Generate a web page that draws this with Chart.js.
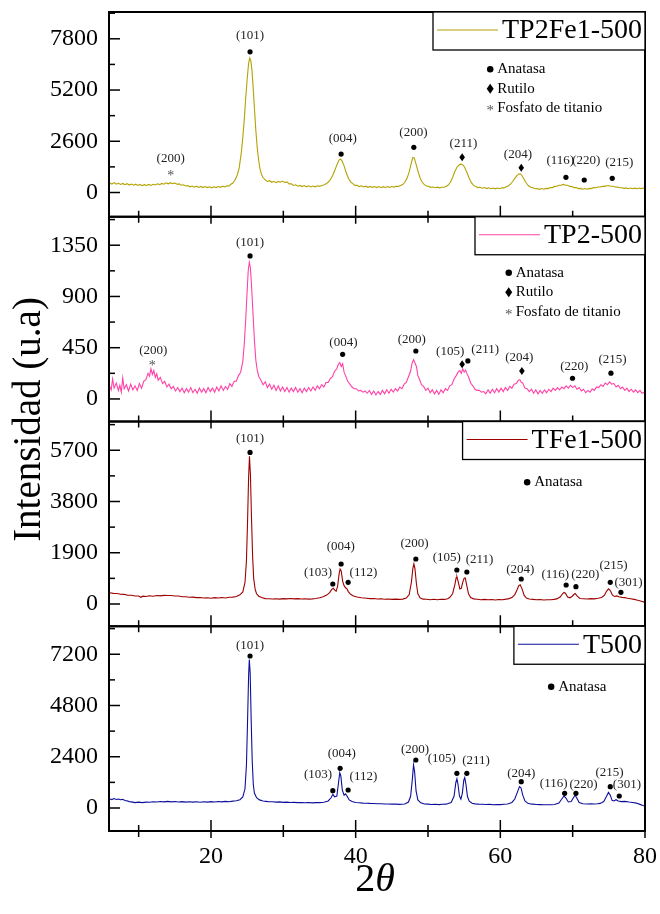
<!DOCTYPE html>
<html>
<head>
<meta charset="utf-8">
<script src="https://cdn.jsdelivr.net/npm/chart.js@4.4.0/dist/chart.umd.min.js"></script>
<style>
  html, body { margin: 0; background: #fff; }
</style>
</head>
<body>
<canvas id="xrdChart" width="660" height="914"></canvas>
<script>
// ---- data: [2theta, intensity] ----
const tp2fe1 = [
  [6.0,480],[6.3,430],[6.6,500],[6.9,420],[7.2,470],[7.5,410],[7.8,460],[8.1,400],[8.4,450],[8.7,380],
  [9.0,430],[9.3,370],[9.6,420],[9.9,360],[10.2,410],[10.5,350],[10.8,400],[11.1,355],[11.4,410],[11.7,360],
  [12.0,420],[12.3,380],[12.6,440],[12.9,400],[13.2,460],[13.5,420],[13.8,490],[14.1,440],[14.4,500],[14.7,450],
  [15.0,480],[15.3,420],[15.6,440],[15.9,370],[16.2,390],[16.5,330],[16.8,350],[17.1,290],[17.4,330],[17.7,270],
  [18.0,320],[18.3,260],[18.6,310],[18.9,250],[19.2,300],[19.5,250],[19.8,290],[20.1,240],[20.4,290],[20.7,250],
  [21.0,300],[21.3,260],[21.6,320],[21.9,280],[22.2,340],[22.5,330],[22.8,430],[23.0,470],[23.3,620],[23.6,850],
  [23.9,1250],[24.2,2050],[24.4,2800],[24.6,3700],[24.8,4800],[25.0,5750],[25.2,6550],[25.35,6820],[25.5,6700],[25.65,6250],
  [25.8,5500],[26.0,4300],[26.2,3150],[26.4,2250],[26.6,1600],[26.8,1150],[27.0,900],[27.2,760],[27.5,640],[27.8,560],
  [28.1,600],[28.4,520],[28.7,570],[29.0,500],[29.3,560],[29.6,520],[29.9,580],[30.2,510],[30.5,540],[30.8,440],
  [31.1,440],[31.4,360],[31.7,390],[32.0,320],[32.3,360],[32.6,300],[32.9,350],[33.2,290],[33.5,340],[33.8,280],
  [34.1,330],[34.4,290],[34.7,340],[35.0,310],[35.3,360],[35.6,380],[35.9,440],[36.2,520],[36.5,650],[36.8,850],
  [37.1,1100],[37.4,1400],[37.7,1650],[37.9,1700],[38.1,1620],[38.4,1350],[38.7,1000],[39.0,720],[39.3,540],[39.6,450],
  [39.9,360],[40.2,370],[40.5,300],[40.8,340],[41.1,280],[41.4,320],[41.7,265],[42.0,310],[42.3,260],[42.6,300],
  [42.9,250],[43.2,300],[43.5,245],[43.8,295],[44.1,255],[44.4,300],[44.7,260],[45.0,305],[45.3,275],[45.6,320],
  [45.9,310],[46.2,360],[46.5,400],[46.8,520],[47.1,720],[47.4,1050],[47.7,1500],[47.9,1780],[48.1,1760],[48.3,1500],
  [48.6,1100],[48.9,750],[49.2,520],[49.5,400],[49.8,330],[50.1,310],[50.4,260],[50.7,280],[51.0,240],[51.3,270],
  [51.6,235],[51.9,270],[52.2,265],[52.5,310],[52.8,380],[53.1,520],[53.4,760],[53.7,1050],[54.0,1280],[54.3,1400],
  [54.5,1440],[54.7,1420],[54.9,1380],[55.1,1250],[55.4,1000],[55.7,720],[56.0,500],[56.3,360],[56.6,300],[56.9,250],
  [57.2,265],[57.5,215],[57.8,250],[58.1,200],[58.4,240],[58.7,190],[59.0,230],[59.3,185],[59.6,225],[59.9,195],
  [60.2,240],[60.5,235],[60.8,290],[61.1,330],[61.4,420],[61.7,560],[62.0,720],[62.3,860],[62.6,950],[62.8,940],
  [63.0,850],[63.3,660],[63.6,470],[63.9,340],[64.2,270],[64.5,240],[64.8,190],[65.1,200],[65.4,160],[65.7,200],
  [66.0,165],[66.3,210],[66.6,200],[66.9,250],[67.2,250],[67.5,310],[67.8,320],[68.1,370],[68.4,370],[68.7,410],
  [69.0,370],[69.3,370],[69.6,310],[69.9,300],[70.2,250],[70.5,250],[70.8,200],[71.1,210],[71.4,165],[71.7,200],
  [72.0,170],[72.3,210],[72.6,200],[72.9,250],[73.2,240],[73.5,280],[73.8,280],[74.1,310],[74.4,310],[74.7,340],
  [75.0,345],[75.3,320],[75.6,315],[75.9,280],[76.2,275],[76.5,240],[76.8,245],[77.1,210],[77.4,235],[77.7,195],
  [78.0,225],[78.3,190],[78.6,220],[78.9,190],[79.2,225],[79.5,200],[79.8,230],[80.0,215]
];

const tp2 = [
  [6.0,110],[6.2,80],[6.4,175],[6.6,95],[6.9,140],[7.2,75],[7.4,120],[7.6,60],[7.8,185],[8.0,90],
  [8.3,125],[8.6,70],[8.9,130],[9.2,80],[9.5,115],[9.8,75],[10.1,135],[10.4,95],[10.7,155],[11.0,170],
  [11.3,225],[11.5,200],[11.7,265],[11.9,215],[12.1,250],[12.3,190],[12.5,220],[12.7,165],[13.0,190],[13.3,135],
  [13.6,155],[13.9,105],[14.2,130],[14.5,90],[14.8,110],[15.1,70],[15.4,100],[15.7,65],[16.0,95],[16.3,55],
  [16.6,90],[16.9,60],[17.2,100],[17.5,55],[17.8,85],[18.1,50],[18.4,95],[18.7,60],[19.0,90],[19.3,55],
  [19.6,100],[19.9,65],[20.2,95],[20.5,60],[20.8,105],[21.1,70],[21.4,115],[21.7,75],[22.0,110],[22.3,85],
  [22.6,135],[22.9,110],[23.2,155],[23.5,155],[23.8,205],[24.1,235],[24.4,330],[24.6,480],[24.8,700],[25.0,950],
  [25.15,1130],[25.3,1200],[25.45,1150],[25.6,1000],[25.8,760],[26.0,520],[26.2,340],[26.4,250],[26.6,200],[26.9,165],
  [27.2,125],[27.5,150],[27.8,100],[28.1,130],[28.4,85],[28.7,120],[29.0,75],[29.3,115],[29.6,70],[29.9,105],
  [30.2,65],[30.5,100],[30.8,60],[31.1,95],[31.4,65],[31.7,100],[32.0,60],[32.3,90],[32.6,55],[32.9,95],
  [33.2,65],[33.5,100],[33.8,70],[34.1,105],[34.4,75],[34.7,115],[35.0,90],[35.3,125],[35.6,105],[35.9,145],
  [36.2,145],[36.5,180],[36.8,195],[37.1,245],[37.4,265],[37.6,305],[37.8,320],[38.0,285],[38.2,310],[38.4,235],
  [38.6,205],[38.9,155],[39.2,130],[39.5,105],[39.8,90],[40.1,90],[40.4,70],[40.7,75],[41.0,60],[41.3,70],
  [41.6,50],[41.9,75],[42.2,40],[42.5,70],[42.8,35],[43.1,65],[43.4,40],[43.7,75],[44.0,45],[44.3,80],
  [44.6,50],[44.9,85],[45.2,60],[45.5,90],[45.8,70],[46.1,105],[46.4,90],[46.7,130],[47.0,145],[47.3,195],
  [47.6,245],[47.8,315],[48.0,345],[48.2,315],[48.4,285],[48.6,205],[48.8,175],[49.1,125],[49.4,110],[49.7,75],
  [50.0,95],[50.3,55],[50.6,80],[50.9,45],[51.2,75],[51.5,40],[51.8,80],[52.1,55],[52.4,90],[52.7,75],
  [53.0,115],[53.3,125],[53.6,175],[53.9,205],[54.2,240],[54.4,250],[54.6,225],[54.8,265],[55.0,235],[55.2,255],
  [55.4,220],[55.6,195],[55.9,140],[56.2,115],[56.5,85],[56.8,75],[57.1,75],[57.4,60],[57.7,65],[58.0,45],
  [58.3,80],[58.6,50],[58.9,85],[59.2,55],[59.5,90],[59.8,60],[60.1,95],[60.4,65],[60.7,100],[61.0,75],
  [61.3,110],[61.6,95],[61.9,130],[62.2,135],[62.5,165],[62.7,170],[62.9,145],[63.1,140],[63.4,95],[63.7,90],
  [64.0,65],[64.3,85],[64.6,50],[64.9,80],[65.2,45],[65.5,75],[65.8,50],[66.1,80],[66.4,55],[66.7,85],
  [67.0,65],[67.3,95],[67.6,75],[67.9,100],[68.2,80],[68.5,105],[68.8,90],[69.1,115],[69.4,95],[69.7,120],
  [70.0,100],[70.3,115],[70.6,85],[70.9,100],[71.2,70],[71.5,85],[71.8,55],[72.1,75],[72.4,60],[72.7,90],
  [73.0,75],[73.3,105],[73.6,100],[73.9,125],[74.2,110],[74.5,140],[74.8,125],[75.1,150],[75.4,130],[75.7,135],
  [76.0,105],[76.3,120],[76.6,90],[76.9,105],[77.2,75],[77.5,95],[77.8,65],[78.1,85],[78.4,60],[78.7,80],
  [79.0,55],[79.3,75],[79.6,50],[80.0,60]
];

const tfe1 = [
  [6.0,420],[6.5,395],[7.0,390],[7.5,360],[8.0,355],[8.5,325],[9.0,325],[9.5,295],[10.0,295],[10.3,250],
  [10.6,290],[11.0,280],[11.5,305],[12.0,290],[12.5,315],[13.0,300],[13.5,320],[14.0,315],[14.5,315],[15.0,295],
  [15.5,295],[16.0,270],[16.5,270],[17.0,250],[17.5,255],[18.0,235],[18.5,240],[19.0,225],[19.5,230],[20.0,215],
  [20.5,235],[21.0,220],[21.5,240],[22.0,225],[22.5,250],[23.0,255],[23.5,280],[24.0,340],[24.4,450],[24.7,800],
  [24.9,1600],[25.05,3000],[25.2,4700],[25.32,5480],[25.45,4800],[25.6,3200],[25.75,1800],[25.9,950],[26.1,550],[26.3,380],
  [26.6,290],[27.0,240],[27.5,200],[28.0,195],[28.5,185],[29.0,195],[29.5,180],[30.0,200],[30.5,190],[31.0,205],
  [31.5,190],[32.0,200],[32.5,185],[33.0,195],[33.5,180],[34.0,190],[34.5,205],[35.0,230],[35.5,270],[36.0,330],
  [36.4,420],[36.7,540],[36.9,580],[37.1,520],[37.3,470],[37.5,650],[37.7,1100],[37.85,1300],[38.0,1230],[38.2,850],
  [38.4,680],[38.6,600],[38.8,560],[39.0,450],[39.3,360],[39.7,300],[40.2,260],[40.8,230],[41.5,215],[42.0,200],
  [42.5,205],[43.0,185],[43.5,195],[44.0,175],[44.5,185],[45.0,170],[45.5,180],[46.0,170],[46.5,180],[47.0,220],
  [47.4,350],[47.7,800],[47.9,1300],[48.05,1490],[48.2,1300],[48.4,750],[48.6,380],[48.9,230],[49.3,180],[49.8,175],
  [50.3,160],[50.8,175],[51.3,160],[51.8,175],[52.3,170],[52.7,195],[53.0,240],[53.4,380],[53.7,700],[53.9,980],
  [54.0,1010],[54.2,800],[54.4,560],[54.6,580],[54.8,800],[55.0,960],[55.15,970],[55.35,700],[55.6,380],[55.9,240],
  [56.3,190],[56.8,175],[57.3,160],[57.8,170],[58.3,155],[58.8,165],[59.3,150],[59.8,165],[60.3,160],[60.8,180],
  [61.2,200],[61.6,240],[62.0,350],[62.3,520],[62.55,680],[62.75,710],[63.0,560],[63.3,320],[63.6,220],[64.0,185],
  [64.5,170],[65.0,155],[65.5,165],[66.0,150],[66.5,160],[67.0,155],[67.4,170],[67.8,190],[68.3,270],[68.6,380],
  [68.8,430],[69.0,400],[69.3,260],[69.6,230],[69.9,280],[70.2,360],[70.35,390],[70.6,300],[71.0,205],[71.5,195],
  [72.0,185],[72.5,200],[73.0,190],[73.5,210],[74.0,240],[74.4,330],[74.7,480],[74.95,560],[75.2,500],[75.5,330],
  [75.8,280],[76.1,300],[76.4,270],[76.8,245],[77.2,235],[77.6,210],[78.0,195],[78.5,170],[79.0,140],[79.5,100],[80.0,60]
];

const t500 = [
  [6.0,420],[6.3,395],[6.6,440],[6.9,400],[7.2,420],[7.5,385],[7.8,405],[8.1,355],[8.4,335],[8.7,300],
  [9.0,285],[9.5,250],[10.0,275],[10.5,250],[11.0,275],[11.5,270],[12.0,295],[12.5,280],[13.0,305],[13.5,285],
  [14.0,310],[14.5,285],[15.0,305],[15.5,280],[16.0,300],[16.5,275],[17.0,295],[17.5,275],[18.0,290],[18.5,270],
  [19.0,295],[19.5,275],[20.0,300],[20.5,280],[21.0,305],[21.5,285],[22.0,310],[22.5,295],[23.0,320],[23.5,340],
  [24.0,390],[24.4,520],[24.7,900],[24.9,2000],[25.05,4000],[25.2,6200],[25.3,6950],[25.42,6300],[25.55,4200],[25.7,2200],
  [25.85,1100],[26.0,700],[26.3,480],[26.7,380],[27.2,330],[27.6,310],[28.0,290],[28.5,295],[29.0,275],[29.5,285],
  [30.0,265],[30.5,275],[31.0,255],[31.5,265],[32.0,250],[32.5,260],[33.0,245],[33.5,255],[34.0,240],[34.5,250],
  [35.0,250],[35.6,270],[36.2,330],[36.6,480],[36.85,640],[37.1,520],[37.4,560],[37.6,1100],[37.8,1650],[37.95,1500],
  [38.15,850],[38.4,600],[38.6,660],[38.8,560],[39.1,380],[39.5,300],[40.0,260],[40.5,245],[41.0,230],[41.5,225],
  [42.0,215],[42.5,210],[43.0,200],[43.5,200],[44.0,190],[44.5,190],[45.0,180],[45.5,180],[46.0,170],[46.4,175],
  [46.8,190],[47.3,280],[47.6,550],[47.85,1400],[48.0,2020],[48.15,1700],[48.35,800],[48.6,380],[49.0,240],[49.5,190],
  [50.0,180],[50.5,165],[51.0,175],[51.5,160],[52.0,175],[52.5,180],[53.2,260],[53.6,550],[53.85,1200],[54.0,1370],
  [54.15,1100],[54.35,560],[54.55,420],[54.75,700],[54.95,1300],[55.08,1420],[55.25,1100],[55.45,550],[55.7,320],[56.1,220],
  [56.5,195],[57.0,180],[57.5,175],[58.0,165],[58.5,170],[59.0,155],[59.5,165],[60.0,160],[60.5,175],[61.0,190],
  [61.6,260],[62.0,420],[62.4,780],[62.65,1000],[62.85,950],[63.1,600],[63.4,330],[63.8,220],[64.2,190],[64.5,180],
  [65.0,165],[65.5,160],[66.0,150],[66.5,155],[67.0,150],[67.5,165],[68.1,230],[68.5,420],[68.8,560],[69.05,480],
  [69.4,280],[69.8,300],[70.1,480],[70.35,600],[70.6,450],[70.9,260],[71.4,200],[72.0,190],[72.5,195],[73.0,190],
  [73.4,200],[73.8,215],[74.3,300],[74.7,560],[74.95,730],[75.2,600],[75.45,360],[75.7,330],[76.0,390],[76.3,330],
  [76.7,300],[77.2,310],[77.8,280],[78.3,260],[78.8,230],[79.3,170],[79.7,120],[80.0,100]
];

// names, tick values and hkl annotations per panel (x = 2theta, y = intensity)
const sampleNames = ['TP2Fe1-500', 'TP2-500', 'TFe1-500', 'T500'];
const xTickValues = [20, 40, 60, 80];
const ticksTP2Fe1 = [0, 2600, 5200, 7800];
const ticksTP2 = [0, 450, 900, 1350];
const ticksTFe1 = [0, 1900, 3800, 5700];
const ticksT500 = [0, 2400, 4800, 7200];

const hklTP2Fe1 = [[25.4,7985,'(101)'],[14.43,1734,'(200)'],[38.22,2748,'(004)'],[47.98,3032,'(200)'],[54.9,2494,'(211)'],
  [62.43,1937,'(204)'],[68.28,1612,'(116)'],[71.88,1612,'(220)'],[76.44,1511,'(215)']];
const marksTP2Fe1 = [[25.4,7139,'dot'],[14.43,973,'star'],[37.99,1952,'dot'],[48.04,2292,'dot'],[54.72,1785,'diamond'],
  [62.89,1257,'diamond'],[69.07,771,'dot'],[71.6,634,'dot'],[75.47,720,'dot']];

const hklTP2 = [[25.4,1370,'(101)'],[12.03,424,'(200)'],[38.31,498,'(004)'],[47.77,524,'(200)'],[53.06,415,'(105)'],
  [57.9,436,'(211)'],[62.61,366,'(204)'],[70.22,284,'(220)'],[75.51,342,'(215)']];
const marksTP2 = [[25.4,1256,'dot'],[11.89,313,'star'],[38.2,392,'dot'],[48.32,421,'dot'],[54.72,305,'diamond'],
  [55.51,334,'dot'],[62.98,246,'diamond'],[69.98,182,'dot'],[75.29,226,'dot']];

const hklTFe1 = [[25.4,6140,'(101)'],[34.8,1149,'(103)'],[37.95,2124,'(004)'],[41.07,1175,'(112)'],[48.13,2250,'(200)'],
  [52.6,1731,'(105)'],[57.12,1631,'(211)'],[62.75,1286,'(204)'],[67.59,1100,'(116)'],[71.74,1075,'(220)'],
  [75.65,1420,'(215)'],[77.73,804,'(301)']];
const marksTFe1 = [[25.4,5620,'dot'],[36.84,741,'dot'],[37.99,1483,'dot'],[38.96,804,'dot'],[48.32,1668,'dot'],
  [53.99,1260,'dot'],[55.37,1186,'dot'],[62.89,927,'dot'],[69.1,704,'dot'],[70.45,643,'dot'],[75.2,804,'dot'],[76.67,433,'dot']];

const hklT500 = [[25.4,7586,'(101)'],[34.8,1545,'(103)'],[38.08,2560,'(004)'],[41.07,1467,'(112)'],[48.22,2716,'(200)'],
  [51.9,2295,'(105)'],[56.65,2216,'(211)'],[62.89,1623,'(204)'],[67.37,1155,'(116)'],[71.5,1108,'(220)'],
  [75.1,1670,'(215)'],[77.5,1077,'(301)']];
const marksT500 = [[25.4,7118,'dot'],[36.84,811,'dot'],[37.85,1858,'dot'],[38.96,843,'dot'],[48.32,2248,'dot'],
  [53.99,1623,'dot'],[55.37,1623,'dot'],[62.89,1233,'dot'],[68.89,687,'dot'],[70.45,687,'dot'],[75.2,999,'dot'],[76.44,562,'dot']];

// phase key inside each panel: anchor of first row, then entries
const phaseKeyTP2Fe1 = [58.6, 6261];
const phaseKeyTP2 = [61.16, 1109];
const phaseKeyTFe1 = [63.71, 4511];
const phaseKeyT500 = [67.03, 5681];
const phasesAll = [['dot','Anatasa'], ['diamond','Rutilo'], ['star','Fosfato de titanio']];
const phasesAnatase = [['dot','Anatasa']];

const serif = '"Liberation Serif", "Times New Roman", serif';

const panels = [
  { axis: 'yA', name: sampleNames[0], color: '#b3a200', data: tp2fe1, ticks: ticksTP2Fe1, min: -1230, max: 9160,
    hkl: hklTP2Fe1, marks: marksTP2Fe1, key: phaseKeyTP2Fe1, phases: phasesAll, weight: 4 },
  { axis: 'yB', name: sampleNames[1], color: '#ff42a6', data: tp2, ticks: ticksTP2, min: -198, max: 1600,
    hkl: hklTP2, marks: marksTP2, key: phaseKeyTP2, phases: phasesAll, weight: 3 },
  { axis: 'yC', name: sampleNames[2], color: '#9e0000', data: tfe1, ticks: ticksTFe1, min: -825, max: 6766,
    hkl: hklTFe1, marks: marksTFe1, key: phaseKeyTFe1, phases: phasesAnatase, weight: 2 },
  { axis: 'yD', name: sampleNames[3], color: '#0e0e9a', data: t500, ticks: ticksT500, min: -1077, max: 8511,
    hkl: hklT500, marks: marksT500, key: phaseKeyT500, phases: phasesAnatase, weight: 1 }
];

function drawSymbol(ctx, kind, x, y, big) {
  const s = big ? 1.25 : 1;
  ctx.fillStyle = '#000';
  if (kind === 'dot') {
    ctx.beginPath();
    ctx.arc(x, y, 2.6 * s, 0, Math.PI * 2);
    ctx.fill();
  } else if (kind === 'diamond') {
    ctx.beginPath();
    ctx.moveTo(x, y - 4 * s);
    ctx.lineTo(x + 2.8 * s, y);
    ctx.lineTo(x, y + 4 * s);
    ctx.lineTo(x - 2.8 * s, y);
    ctx.closePath();
    ctx.fill();
  } else {
    ctx.fillStyle = '#555';
    ctx.font = (big ? 15 : 14) + 'px ' + serif;
    ctx.textAlign = 'center';
    ctx.textBaseline = 'middle';
    ctx.fillText('*', x, y + 3);
  }
}

// no automatic label overhang: the frame sits where the figure has it
function noPadding(s) {
  s.paddingTop = 0;
  s.paddingBottom = 0;
  s.paddingLeft = 0;
  s.paddingRight = 0;
}

const framePlugin = {
  id: 'xrdFrame',
  afterDraw(chart) {
    const ctx = chart.ctx;
    const area = chart.chartArea;
    const xs = chart.scales.x;
    ctx.save();
    ctx.strokeStyle = '#000';
    ctx.fillStyle = '#000';

    panels.forEach(p => {
      const ys = chart.scales[p.axis];
      ctx.lineWidth = 2;
      ctx.strokeRect(area.left, ys.top, area.right - area.left, ys.bottom - ys.top);

      // y ticks, pointing inward
      ctx.lineWidth = 1.5;
      const half = (p.ticks[1] - p.ticks[0]) / 2;
      for (let k = Math.ceil(p.min / half); k * half <= p.max; k++) {
        const py = ys.getPixelForValue(k * half);
        const len = k % 2 === 0 ? 11 : 6;
        ctx.beginPath();
        ctx.moveTo(area.left, py);
        ctx.lineTo(area.left + len, py);
        ctx.stroke();
      }
      // x ticks across the lower edge of each panel
      for (let v = 10; v <= 80; v += 10) {
        const px = xs.getPixelForValue(v);
        const major = v % 20 === 0;
        ctx.beginPath();
        ctx.moveTo(px, ys.bottom - (major ? 11 : 6));
        ctx.lineTo(px, ys.bottom + (major ? 7 : 6));
        ctx.stroke();
      }

      // sample legend box
      ctx.font = '28px ' + serif;
      const tw = ctx.measureText(p.name).width;
      const textLeft = area.right - 3 - tw;
      const lineEnd = textLeft - 4;
      const lineStart = lineEnd - 61;
      const boxLeft = lineStart - 4;
      const boxH = 38;
      ctx.fillStyle = '#fff';
      ctx.fillRect(boxLeft, ys.top, area.right - boxLeft, boxH);
      ctx.lineWidth = 1.3;
      ctx.strokeRect(boxLeft, ys.top, area.right - boxLeft, boxH);
      ctx.strokeStyle = p.color;
      ctx.lineWidth = 1.2;
      ctx.beginPath();
      ctx.moveTo(lineStart, ys.top + 18);
      ctx.lineTo(lineEnd, ys.top + 18);
      ctx.stroke();
      ctx.strokeStyle = '#000';
      ctx.fillStyle = '#000';
      ctx.textAlign = 'left';
      ctx.textBaseline = 'middle';
      ctx.fillText(p.name, textLeft, ys.top + 19);

      // hkl labels and phase symbols
      ctx.font = '13px ' + serif;
      ctx.textAlign = 'center';
      ctx.textBaseline = 'middle';
      ctx.fillStyle = '#222';
      p.hkl.forEach(([x, y, t]) => {
        ctx.fillText(t, xs.getPixelForValue(x), ys.getPixelForValue(y));
      });
      p.marks.forEach(([x, y, kind]) => {
        drawSymbol(ctx, kind, xs.getPixelForValue(x), ys.getPixelForValue(y), false);
      });

      // phase key
      const kx = xs.getPixelForValue(p.key[0]);
      let ky = ys.getPixelForValue(p.key[1]);
      p.phases.forEach(([kind, label]) => {
        drawSymbol(ctx, kind, kx, ky, true);
        ctx.fillStyle = '#000';
        ctx.font = '15px ' + serif;
        ctx.textAlign = 'left';
        ctx.textBaseline = 'middle';
        ctx.fillText(label, kx + 7, ky);
        ky += 19.6;
      });
    });

    // y title
    ctx.save();
    ctx.translate(30, (area.top + area.bottom) / 2 - 2);
    ctx.rotate(-Math.PI / 2);
    ctx.font = '39px ' + serif;
    ctx.textAlign = 'center';
    ctx.textBaseline = 'middle';
    ctx.fillStyle = '#000';
    ctx.fillText('Intensidad (u.a)', 0, 0);
    ctx.restore();

    // x title: upright 2, italic theta
    ctx.font = '40px ' + serif;
    const w2 = ctx.measureText('2').width;
    ctx.font = 'italic 40px ' + serif;
    const wt = ctx.measureText('θ').width;
    const cx = (area.left + area.right) / 2 - 2;
    const startX = cx - (w2 + wt) / 2;
    ctx.textAlign = 'left';
    ctx.textBaseline = 'middle';
    ctx.font = '40px ' + serif;
    ctx.fillText('2', startX, 880);
    ctx.font = 'italic 40px ' + serif;
    ctx.fillText('θ', startX + w2, 880);

    ctx.restore();
  }
};

const scales = {
  x: {
    type: 'linear',
    position: 'bottom',
    min: 5.9,
    max: 80,
    afterBuildTicks: s => { s.ticks = xTickValues.map(v => ({ value: v })); },
    afterFit: s => { s.height = 83; noPadding(s); },
    grid: { display: false, drawTicks: false },
    border: { display: false },
    ticks: { color: '#000', padding: 11, maxRotation: 0, font: { family: serif, size: 24 },
      callback: v => String(v) }
  }
};
panels.forEach(p => {
  scales[p.axis] = {
    type: 'linear',
    position: 'left',
    stack: 'xrd',
    stackWeight: 1,
    weight: p.weight,
    min: p.min,
    max: p.max,
    afterBuildTicks: s => { s.ticks = p.ticks.map(v => ({ value: v })); },
    afterFit: s => { s.width = 109; noPadding(s); },
    grid: { display: false, drawTicks: false },
    border: { display: false },
    ticks: { color: '#000', padding: 11, font: { family: serif, size: 24 },
      callback: v => String(v) }
  };
});

new Chart(document.getElementById('xrdChart'), {
  type: 'line',
  data: {
    datasets: panels.map(p => ({
      label: p.name,
      data: p.data.map(([x, y]) => ({ x, y })),
      yAxisID: p.axis,
      borderColor: p.color,
      borderWidth: 1.1,
      pointRadius: 0,
      tension: 0,
      fill: false
    }))
  },
  options: {
    responsive: false,
    animation: false,
    devicePixelRatio: 1,
    layout: { padding: { left: 0, right: 15, top: 12, bottom: 0 } },
    plugins: { legend: { display: false }, tooltip: { enabled: false } },
    scales: scales
  },
  plugins: [framePlugin]
});
</script>
</body>
</html>
